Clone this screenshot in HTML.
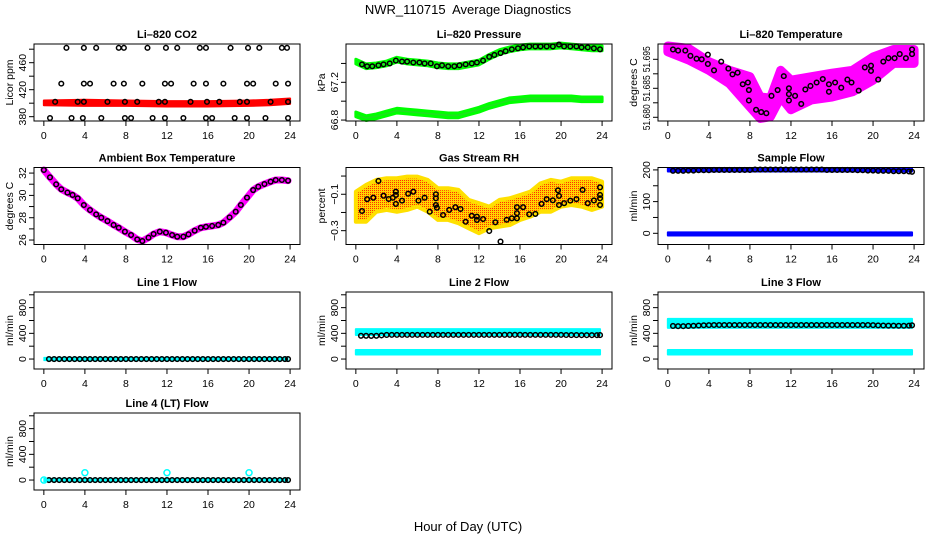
<!DOCTYPE html>
<html><head><meta charset="utf-8"><style>
html,body{margin:0;padding:0;background:#fff}
svg{display:block;font-family:"Liberation Sans",sans-serif}
</style></head><body>
<svg id="c" width="936" height="540" viewBox="0 0 936 540">
<defs>
<pattern id="rhpat" width="2" height="2" patternUnits="userSpaceOnUse"><rect width="2" height="2" fill="#ffd400"/><rect width="1" height="1" fill="#ff3000"/></pattern>
</defs>
<text x="468" y="14" text-anchor="middle" font-size="13" style="white-space:pre">NWR_110715  Average Diagnostics</text>
<text x="468" y="531" text-anchor="middle" font-size="13">Hour of Day (UTC)</text>
</svg>
<script>
// ---------- data ----------
const xTicks=[0,4,8,12,16,20,24];
// CO2
const co2BandHours=[0,4,8,12,16,20,22,24];
const co2BandUpper=[404,405,404,403,403,404,405,407];
const co2BandLower=[397,396,396,395,395,396,397,399];
const co2PtHours=[2.2,3.9,5.1,7.3,7.8,10.1,11.9,13.0,15.2,15.8,18.2,19.9,21.0,23.2,23.7, 1.7,3.9,4.5,6.8,7.8,9.6,11.8,12.4,14.6,15.8,17.5,19.8,20.4,22.6,23.8, 1.1,3.3,3.9,6.2,7.9,9.1,11.2,11.8,14.3,15.9,17.1,19.1,19.8,22.1,23.8, 0.6,2.7,3.8,5.6,7.9,8.5,10.6,11.8,13.6,15.8,16.4,18.6,19.8,21.6,23.8];
const co2PtValues=[482,482,482,482,482,482,482,482,482,482,482,482,482,482,482, 429,429,429,429,429,429,429,429,429,429,429,429,429,429,429, 402,402,402,402,402,402,402,402,402,402,402,402,402,402,402, 378,378,378,378,378,378,378,378,378,378,378,378,378,378,378];
// Pressure
const presHours=[0,1,2,3,4,5,6,7,8,9,10,11,12,13,14,15,16,17,18,19,20,21,22,23,24];
const presUpper=[67.42,67.37,67.38,67.40,67.44,67.42,67.41,67.40,67.38,67.37,67.37,67.39,67.41,67.47,67.52,67.55,67.57,67.58,67.58,67.58,67.59,67.58,67.57,67.56,67.56];
const presLower=[66.86,66.82,66.84,66.87,66.90,66.89,66.88,66.87,66.86,66.85,66.85,66.88,66.91,66.95,66.98,67.01,67.02,67.03,67.03,67.03,67.03,67.03,67.02,67.02,67.02];
const presPtHours=[0.6,1.1,1.6,2.2,2.7,3.3,3.9,4.5,5.0,5.6,6.2,6.7,7.3,7.9,8.4,9.0,9.6,10.1,10.7,11.3,11.8,12.4,13.0,13.5,14.1,14.6,15.2,15.8,16.3,16.9,17.5,18.0,18.6,19.2,19.8,20.3,20.9,21.5,22.0,22.6,23.2,23.8];
const presPtValues=[67.39,67.37,67.37,67.38,67.39,67.40,67.43,67.42,67.42,67.41,67.41,67.40,67.40,67.37,67.38,67.37,67.37,67.38,67.39,67.40,67.41,67.43,67.47,67.49,67.51,67.53,67.55,67.56,67.57,67.58,67.58,67.58,67.58,67.58,67.60,67.58,67.58,67.58,67.57,67.57,67.56,67.55];
// Li-820 temperature
const tempCloudHours=[0,2,4,6,8,9,10,11,12,14,16,18,20,22,24];
const tempCloudUpper=[51.6923,51.6919,51.6896,51.6881,51.6870,51.6835,51.6833,51.6881,51.6864,51.6870,51.6876,51.6881,51.6904,51.6917,51.6917];
const tempCloudLower=[51.6913,51.6899,51.6881,51.6858,51.6818,51.6798,51.6801,51.6835,51.6813,51.6830,51.6835,51.6844,51.6864,51.6893,51.6893];
const tempPtHours=[0.5,1.0,1.7,2.2,2.8,3.3,3.9,3.9,4.5,5.2,5.9,6.3,6.8,7.3,7.8,7.9,7.9,8.6,9.1,9.6,10.1,10.7,11.3,11.8,11.8,11.8,12.4,13.0,13.4,13.9,14.5,15.1,15.7,15.7,16.3,16.9,17.5,17.9,18.6,19.2,19.8,19.8,20.5,21.0,21.5,22.1,22.6,23.2,23.8,23.8];
const tempPtValues=[51.6917,51.6915,51.6915,51.6906,51.6901,51.6900,51.6908,51.6892,51.6881,51.6896,51.6884,51.6874,51.6877,51.6857,51.6860,51.6847,51.6829,51.6813,51.6809,51.6807,51.6837,51.6847,51.6871,51.6850,51.6840,51.6829,51.6837,51.6823,51.6848,51.6854,51.6860,51.6866,51.6857,51.6844,51.6860,51.6851,51.6865,51.6860,51.6846,51.6886,51.6880,51.6889,51.6865,51.6896,51.6902,51.6902,51.6909,51.6902,51.6917,51.6909];
// Ambient box temperature
const ambHours=[0,0.6,1.2,1.7,2.3,2.8,3.3,3.9,4.5,5.1,5.6,6.2,6.8,7.3,7.9,8.5,9.1,9.6,10.2,10.7,11.3,11.9,12.5,13.0,13.6,14.1,14.7,15.3,15.8,16.4,17.0,17.5,18.1,18.7,19.2,19.8,20.4,20.9,21.5,22.1,22.6,23.2,23.8];
const ambValues=[32.28,31.62,30.99,30.55,30.25,30.04,29.74,29.14,28.69,28.30,28.00,27.70,27.35,27.10,26.75,26.45,26.06,25.91,26.21,26.54,26.75,26.66,26.45,26.30,26.30,26.51,26.84,27.10,27.19,27.26,27.35,27.56,28.03,28.54,29.14,29.80,30.48,30.78,31.02,31.23,31.38,31.38,31.32];
// Gas stream RH
const rhCloudHours=[0,1,2,3,4,5,6,7,8,9,10,11,12,13,14,15,16,17,18,19,20,21,22,23,24];
const rhCloudUpper=[-0.086,-0.049,-0.021,-0.012,-0.012,-0.003,-0.003,-0.021,-0.067,-0.067,-0.076,-0.131,-0.149,-0.168,-0.131,-0.122,-0.104,-0.086,-0.040,-0.021,-0.031,-0.012,-0.012,-0.012,-0.031];
const rhCloudLower=[-0.251,-0.251,-0.196,-0.186,-0.196,-0.186,-0.168,-0.196,-0.241,-0.241,-0.259,-0.287,-0.314,-0.287,-0.278,-0.269,-0.241,-0.223,-0.196,-0.196,-0.168,-0.159,-0.168,-0.186,-0.168];
const rhPtHours=[0.6,1.1,1.7,2.2,2.7,3.2,3.6,3.9,3.9,3.9,4.5,5.1,5.6,6.1,6.7,7.2,7.8,7.8,7.8,7.9,8.5,9.1,9.7,10.2,10.7,11.3,11.8,11.8,12.4,13.0,13.6,14.1,14.7,15.2,15.7,15.7,15.7,16.3,16.9,17.5,18.1,18.6,19.2,19.7,19.8,19.8,20.3,20.9,21.5,22.1,22.6,23.2,23.8,23.8,23.8,23.8];
const rhPtValues=[-0.192,-0.127,-0.119,-0.027,-0.108,-0.126,-0.119,-0.086,-0.104,-0.153,-0.135,-0.097,-0.086,-0.135,-0.119,-0.196,-0.100,-0.122,-0.159,-0.174,-0.214,-0.186,-0.171,-0.181,-0.251,-0.218,-0.223,-0.241,-0.236,-0.302,-0.254,-0.360,-0.240,-0.232,-0.232,-0.204,-0.171,-0.171,-0.210,-0.208,-0.153,-0.127,-0.133,-0.078,-0.109,-0.159,-0.149,-0.135,-0.127,-0.076,-0.149,-0.134,-0.062,-0.104,-0.122,-0.159];
// Flows (shared black-point hours)
const flowPtHours=[0.5,1.0,1.5,2.0,2.5,3.0,3.5,4.0,4.5,5.0,5.5,6.0,6.5,7.0,7.5,8.0,8.5,9.0,9.5,10.0,10.5,11.0,11.5,12.0,12.5,13.0,13.5,14.0,14.5,15.0,15.5,16.0,16.5,17.0,17.5,18.0,18.5,19.0,19.5,20.0,20.5,21.0,21.5,22.0,22.5,23.0,23.5,23.8];
const bandHours=[0,23.8];
const sampleHiBand=[200,200];
const sampleLoBand=[-2,-2];
const samplePtValues=[197,197,197,198,198,199,199,199,200,200,200,200,200,200,200,200,201,201,201,201,201,201,201,201,201,201,201,201,201,201,200,200,200,200,200,200,199,199,198,198,197,197,197,196,196,196,195,194];
const line1Band=[0,0];
const line1PtValues=[0,0,0,0,0,0,0,0,0,0,0,0,0,0,0,0,0,0,0,0,0,0,0,0,0,0,0,0,0,0,0,0,0,0,0,0,0,0,0,0,0,0,0,0,0,0,0,0];
const line2BandHi=[420,420];
const line2BandLo=[105,105];
const line2PtValues=[362,362,360,362,368,375,376,376,376,376,376,376,376,376,376,376,376,376,376,376,376,376,376,376,376,376,376,376,377,377,377,377,376,376,376,376,376,376,376,376,374,373,373,372,372,372,372,373];
const line3BandHi=[555,555];
const line3BandLo=[105,105];
const line3PtValues=[515,512,512,515,518,522,526,528,530,530,530,530,530,530,530,530,530,530,530,530,530,530,530,530,530,530,530,530,530,530,530,530,530,530,530,530,530,530,530,528,524,522,520,520,518,518,520,525];
const line4PtValues=[0,0,0,0,0,0,0,0,0,0,0,0,0,0,0,0,0,0,0,0,0,0,0,0,0,0,0,0,0,0,0,0,0,0,0,0,0,0,0,0,0,0,0,0,0,0,0,0];
const line4CyanHours=[0,4,12,20];
const line4CyanValues=[0,114,114,114];

// ---------- drawing ----------
const NS="http://www.w3.org/2000/svg";
const svg=document.getElementById('c');
function mk(tag,attrs,parent){const e=document.createElementNS(NS,tag);for(const k in attrs)e.setAttribute(k,attrs[k]);(parent||svg).appendChild(e);return e;}
const colLeft=[34,346,658], rowTop=[44,167.5,292,413], W=266, H=77;
function makePanel(name,col,row,lo,hi,title,ylab,yTicks,yLabels,yLen){
  const L=colLeft[col],T=rowTop[row];
  const g=mk('g',{});
  
  
  const p={g,L,T,xs:h=>L+9.85+h*10.26,ys:v=>T+H-(v-lo)/(hi-lo)*H};
  p.finish=function(){
    const box=mk('rect',{x:L,y:T,width:W,height:H,fill:'none',stroke:'#000','stroke-width':1},g);
    
    
    const xa=mk('g',{},g);
    
    
    mk('line',{x1:p.xs(xTicks[0]),x2:p.xs(xTicks[xTicks.length-1]),y1:T+H,y2:T+H,stroke:'#000'},xa);
    xTicks.forEach(t=>{mk('line',{x1:p.xs(t),x2:p.xs(t),y1:T+H,y2:T+H+5,stroke:'#000'},xa);
      const tx=mk('text',{x:p.xs(t),y:T+H+18,'text-anchor':'middle','font-size':10.5},xa);tx.textContent=t;});
    const ya=mk('g',{},g);
    
    
    mk('line',{x1:L,x2:L,y1:p.ys(yTicks[0]),y2:p.ys(yTicks[yTicks.length-1]),stroke:'#000'},ya);
    yTicks.forEach((t,i)=>{const y=p.ys(t);mk('line',{x1:L-5,x2:L,y1:y,y2:y,stroke:'#000'},ya);
      if(yLabels[i]){const a={x:L-8,y:y,'text-anchor':'middle','font-size':10.5,transform:`rotate(-90 ${L-8} ${y})`};
        if(yLen){a.textLength=yLen;a.lengthAdjust='spacingAndGlyphs';}
        const tx=mk('text',a,ya);tx.textContent=yLabels[i];}});
    const yt=mk('text',{x:L-21,y:T+H/2,'text-anchor':'middle','font-size':10.5,transform:`rotate(-90 ${L-21} ${T+H/2})`},g);
    yt.textContent=ylab;
    
    
    const tt=mk('text',{x:L+W/2,y:T-6,'text-anchor':'middle','font-size':11,'font-weight':'bold'},g);
    tt.textContent=title;
    
    
  };
  return p;
}
function band(p,name,hours,up,low,fill,stroke,sw){
  const pts=hours.map((h,i)=>p.xs(h)+','+p.ys(up[i])).concat(hours.map((h,i)=>p.xs(h)+','+p.ys(low[i])).reverse());
  const e=mk('polygon',{points:pts.join(' '),fill:fill,stroke:stroke,'stroke-width':sw,'stroke-linejoin':'round'},p.g);
  
  
}
function pts(p,name,hours,vals,color,r){
  const g=mk('g',{},p.g);
  
  
  hours.forEach((h,i)=>mk('circle',{cx:p.xs(h),cy:p.ys(vals[i]),r:r||2.3,fill:'none',stroke:color||'#000','stroke-width':1.5},g));
}
function thickLine(p,name,hours,vals,color,w){
  const e=mk('polyline',{points:hours.map((h,i)=>p.xs(h)+','+p.ys(vals[i])).join(' '),fill:'none',stroke:color,'stroke-width':w,'stroke-linecap':'round','stroke-linejoin':'round'},p.g);
  
  
}
const flowTicks=[0,200,400,600,800,1000], flowLabels=['0','','400','','800',''];
const fLo=-155, fHi=-155+77/0.06425;

// CO2
let p=makePanel('co2',0,0,373.6,487.7,'Li–820 CO2','Licor ppm',[380,400,420,440,460,480],['380','','420','','460','']);
band(p,'co2-band',co2BandHours,co2BandUpper,co2BandLower,'#ff0000','#ff0000',2);
pts(p,'co2-points',co2PtHours,co2PtValues);p.finish();
// Pressure
p=makePanel('pressure',1,0,66.79,67.606,'Li–820 Pressure','kPa',[66.8,67.0,67.2,67.4],['66.8','','67.2','']);
band(p,'pressure-upper-band',presHours,presUpper.map(v=>v+0.025),presUpper.map(v=>v-0.025),'#22dd22','#00ff00',3);
band(p,'pressure-lower-band',presHours,presLower.map(v=>v+0.025),presLower.map(v=>v-0.025),'#22dd22','#00ff00',3);
pts(p,'pressure-points',presPtHours,presPtValues);p.finish();
// Temperature
p=makePanel('li820-temp',2,0,51.67936,51.69264,'Li–820 Temperature','degrees C',[51.680,51.6825,51.685,51.6875,51.690],['51.680','','51.685','','51.695'],26);
band(p,'temp-cloud',tempCloudHours,tempCloudUpper,tempCloudLower,'#ff00ff','#ff00ff',9);
pts(p,'temp-points',tempPtHours,tempPtValues);p.finish();
// Ambient
p=makePanel('ambient-temp',0,1,25.6,32.5,'Ambient Box Temperature','degrees C',[26,27,28,29,30,31,32],['26','','28','','30','','32']);
thickLine(p,'ambient-line',ambHours,ambValues,'#ff00ff',7);
pts(p,'ambient-points',ambHours,ambValues);p.finish();
// RH
p=makePanel('rh',1,1,-0.376,0.047,'Gas Stream RH','percent',[-0.3,-0.2,-0.1,0.0],['−0.3','','−0.1','']);
band(p,'rh-cloud',rhCloudHours,rhCloudUpper,rhCloudLower,'url(#rhpat)','#ffe000',4);
pts(p,'rh-points',rhPtHours,rhPtValues);p.finish();
// Sample flow
p=makePanel('sample-flow',2,1,-35.3,207.6,'Sample Flow','ml/min',[0,50,100,150,200],['0','','100','','200']);
band(p,'sample-high-band',bandHours,sampleHiBand.map(v=>v+5),sampleHiBand.map(v=>v-5),'#0000ff','#0000ff',2);
band(p,'sample-low-band',bandHours,sampleLoBand.map(v=>v+5),sampleLoBand.map(v=>v-5),'#0000ff','#0000ff',2);
pts(p,'sample-points',flowPtHours,samplePtValues);p.finish();
// Line 1
p=makePanel('line1-flow',0,2,fLo,fHi,'Line 1 Flow','ml/min',flowTicks,flowLabels);
band(p,'line1-band',bandHours,line1Band.map(v=>v+25),line1Band.map(v=>v-25),'#00ffff','#00ffff',1);
pts(p,'line1-points',flowPtHours,line1PtValues);p.finish();
// Line 2
p=makePanel('line2-flow',1,2,fLo,fHi,'Line 2 Flow','ml/min',flowTicks,flowLabels);
band(p,'line2-high-band',bandHours,line2BandHi.map(v=>v+45),line2BandHi.map(v=>v-45),'#00ffff','#00ffff',2);
band(p,'line2-low-band',bandHours,line2BandLo.map(v=>v+35),line2BandLo.map(v=>v-35),'#00ffff','#00ffff',2);
pts(p,'line2-points',flowPtHours,line2PtValues);p.finish();
// Line 3
p=makePanel('line3-flow',2,2,fLo,fHi,'Line 3 Flow','ml/min',flowTicks,flowLabels);
band(p,'line3-high-band',bandHours,line3BandHi.map(v=>v+70),line3BandHi.map(v=>v-70),'#00ffff','#00ffff',2);
band(p,'line3-low-band',bandHours,line3BandLo.map(v=>v+35),line3BandLo.map(v=>v-35),'#00ffff','#00ffff',2);
pts(p,'line3-points',flowPtHours,line3PtValues);p.finish();
// Line 4
p=makePanel('line4-flow',0,3,fLo,fHi,'Line 4 (LT) Flow','ml/min',flowTicks,flowLabels);
band(p,'line4-band',bandHours,line1Band.map(v=>v+25),line1Band.map(v=>v-25),'#00ffff','#00ffff',1);
pts(p,'line4-points',flowPtHours,line4PtValues);
pts(p,'line4-cyan-points',line4CyanHours,line4CyanValues,'#00ffff',3);p.finish();
</script>
</body></html>
